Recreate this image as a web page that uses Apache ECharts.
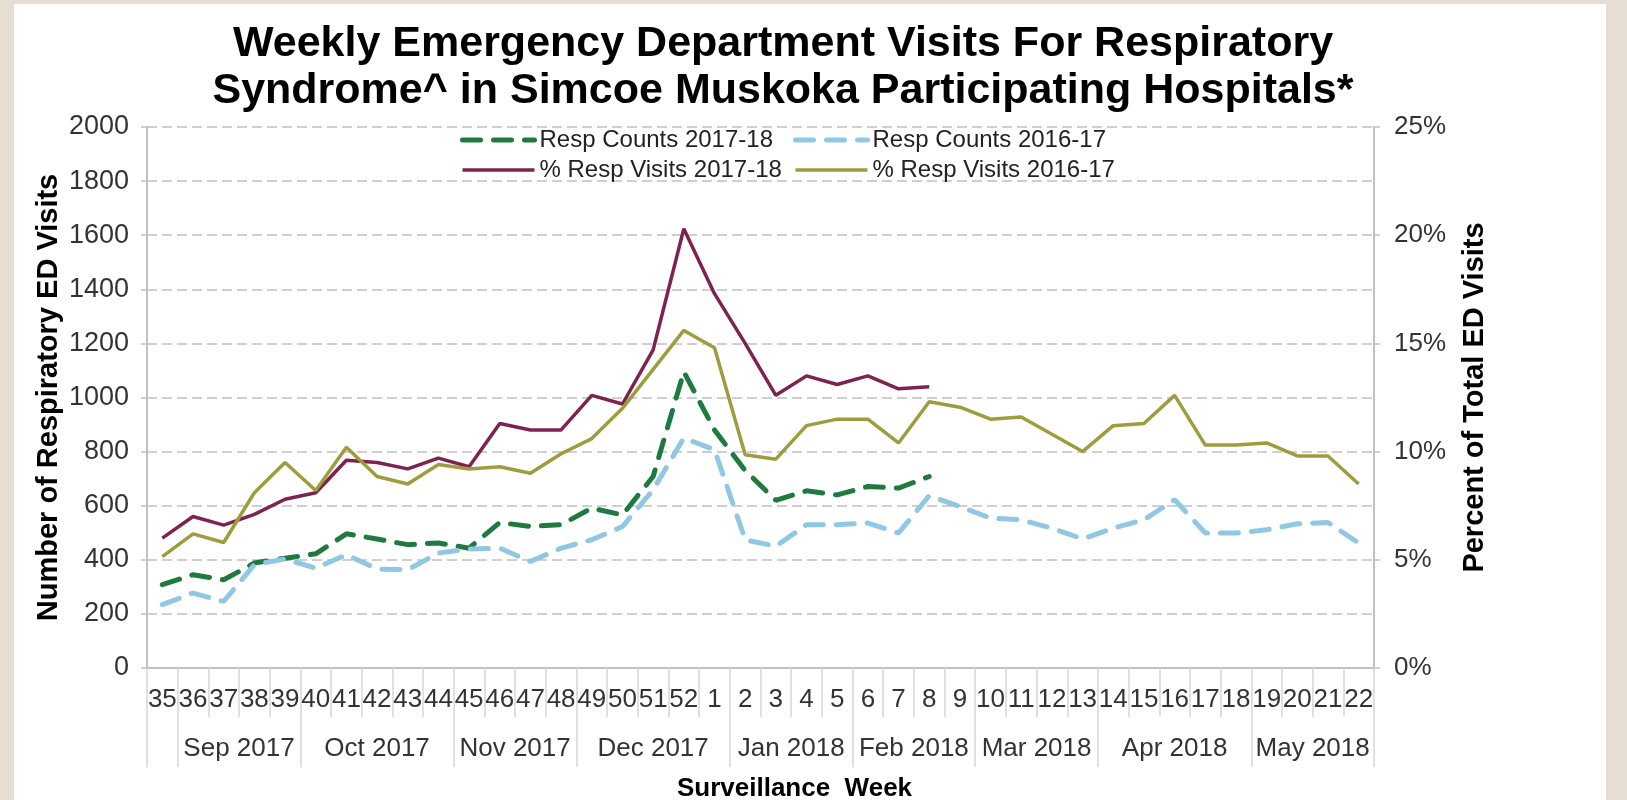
<!DOCTYPE html>
<html>
<head>
<meta charset="utf-8">
<title>Weekly ED Visits For Respiratory Syndrome</title>
<script src="https://cdn.jsdelivr.net/npm/echarts@6/dist/echarts.min.js"></script>
<style>
  html, body { margin: 0; padding: 0; background: #e6ddd3; }
  .paper { position: absolute; left: 14px; top: 4px; width: 1592px; height: 796px; background: #fff; }
  #chart { position: absolute; left: 0; top: 0; width: 1627px; height: 800px; }
</style>
</head>
<body>
<div class="paper"></div>
<div id="chart"></div>
<script>
// surveillance weeks 35 (2017) .. 22 (2018)
const weeks = ['35', '36', '37', '38', '39', '40', '41', '42', '43', '44', '45', '46', '47', '48', '49', '50', '51', '52',
  '1', '2', '3', '4', '5', '6', '7', '8', '9', '10', '11', '12', '13', '14', '15', '16', '17', '18', '19', '20', '21', '22']

// month groups under the week labels (how many weeks each one covers)
const months = ['', 'Sep 2017', 'Oct 2017', 'Nov 2017', 'Dec 2017', 'Jan 2018', 'Feb 2018', 'Mar 2018', 'Apr 2018', 'May 2018']
const monthWeeks = [1, 4, 5, 4, 5, 4, 4, 4, 5, 4]

// respiratory ED visit counts
const counts1718 = [308, 345, 326, 388, 406, 422, 496, 477, 456, 462, 443, 538, 523, 530, 591, 566, 708, 1095,
  880, 730, 620, 655, 640, 671, 665, 708]
const counts1617 = [234, 277, 246, 382, 403, 369, 419, 366, 363, 425, 440, 443, 394, 443, 474, 523, 659, 850,
  807, 474, 450, 530, 530, 536, 499, 637, 597, 554, 548, 517, 477, 517, 548, 622, 499, 499, 511, 533, 538, 462]

// percent of total ED visits
const pct1718 = [6.0, 7.0, 6.6, 7.1, 7.8, 8.1, 9.6, 9.5, 9.2, 9.7, 9.3, 11.3, 11.0, 11.0, 12.6, 12.2, 14.7, 20.3,
  17.3, 15.0, 12.6, 13.5, 13.1, 13.5, 12.9, 13.0]
const pct1617 = [5.15, 6.2, 5.8, 8.1, 9.5, 8.2, 10.2, 8.85, 8.5, 9.4, 9.2, 9.3, 9.0, 9.9, 10.6, 12.0, 13.8, 15.6,
  14.8, 9.85, 9.65, 11.2, 11.5, 11.5, 10.4, 12.3, 12.05, 11.5, 11.6, 10.8, 10.0, 11.2, 11.3, 12.6, 10.3, 10.3,
  10.4, 9.8, 9.8, 8.5]

const countTicks = { min: 0, max: 2000, interval: 200 }
const pctTicks = { min: 0, max: 25, interval: 5 }

const font = "'Liberation Sans', Arial, sans-serif"
const gridGrey = '#c0c0c0'

// the month row is a second category axis on half-week steps (0..80),
// so group edges and group centres both land on points
const halfSteps = []
const monthEdges = new Set([0])
for (let i = 0; i <= weeks.length * 2; i++) halfSteps.push('')
let start = 0
monthWeeks.forEach((n, i) => {
  const end = start + n
  halfSteps[start + end] = months[i]
  monthEdges.add(end * 2)
  start = end
})
const monthCentres = new Set(halfSteps.map((v, i) => v ? i : -1).filter(i => i >= 0))

const chart = echarts.init(document.getElementById('chart'))

// legend: two columns, sample line keeps the series width and dash, no dot
const legendBase = {
  orient: 'vertical',
  top: 123,
  itemWidth: 72,
  itemHeight: 14,
  itemGap: 6,
  itemStyle: { opacity: 0 },
  lineStyle: { width: 'inherit' },
  textStyle: { fontSize: 24, color: '#222', fontFamily: font }
}

const option = {
  backgroundColor: 'transparent',
  animation: false,
  textStyle: { fontFamily: font },
  title: {
    text: 'Weekly Emergency Department Visits For Respiratory\nSyndrome^ in Simcoe Muskoka Participating Hospitals*',
    left: 778,
    top: 16,
    textAlign: 'center',
    textStyle: { fontSize: 43, fontWeight: 'bold', color: '#000', lineHeight: 47, fontFamily: font }
  },
  legend: [
    Object.assign({}, legendBase, { left: 455, data: ['Resp Counts 2017-18', '% Resp Visits 2017-18'] }),
    Object.assign({}, legendBase, { left: 788, data: ['Resp Counts 2016-17', '% Resp Visits 2016-17'] })
  ],
  // fixed plot box, labels and names are allowed to sit outside it
  grid: { left: 147, right: 253, top: 127, bottom: 132, containLabel: false, outerBoundsMode: 'none' },
  xAxis: [
    {
      type: 'category',
      data: weeks,
      boundaryGap: true,
      name: 'Surveillance  Week',
      nameLocation: 'middle',
      nameGap: 108,
      nameTextStyle: { fontSize: 26, fontWeight: 'bold', color: '#000', padding: [0, 0, 0, 68] },
      axisLine: { lineStyle: { color: gridGrey, width: 2 } },
      axisTick: { show: true, interval: 0, length: 49, lineStyle: { color: '#d6d6d6', width: 1.5 } },
      axisLabel: { interval: 0, fontSize: 26, color: '#333', margin: 19 },
      splitLine: { show: false }
    },
    {
      type: 'category',
      data: halfSteps,
      boundaryGap: false,
      position: 'bottom',
      axisLine: { show: false },
      axisTick: { show: true, length: 99, interval: (i) => monthEdges.has(i), lineStyle: { color: '#d6d6d6', width: 1.5 } },
      axisLabel: { interval: (i) => monthCentres.has(i), fontSize: 26, color: '#333', margin: 68 },
      splitLine: { show: false }
    }
  ],
  yAxis: [
    {
      type: 'value',
      min: countTicks.min,
      max: countTicks.max,
      interval: countTicks.interval,
      name: 'Number of Respiratory ED Visits',
      nameLocation: 'middle',
      nameGap: 84,
      nameRotate: 90,
      nameMoveOverlap: false,
      nameTextStyle: { fontSize: 29, fontWeight: 'bold', color: '#000' },
      axisLine: { show: true, lineStyle: { color: gridGrey, width: 2 } },
      axisTick: { show: true, length: 6, lineStyle: { color: gridGrey, width: 1.5 } },
      axisLabel: { fontSize: 27, color: '#333', margin: 18, formatter: (v) => String(v) },
      splitLine: { show: true, lineStyle: { color: gridGrey, width: 1.5, type: [10, 5] } }
    },
    {
      type: 'value',
      min: pctTicks.min,
      max: pctTicks.max,
      interval: pctTicks.interval,
      name: 'Percent of Total ED Visits',
      nameLocation: 'middle',
      nameGap: 86,
      nameRotate: 90,
      nameTextStyle: { fontSize: 29, fontWeight: 'bold', color: '#000' },
      axisLine: { show: true, lineStyle: { color: gridGrey, width: 2 } },
      axisTick: { show: true, length: 6, lineStyle: { color: gridGrey, width: 1.5 } },
      axisLabel: { fontSize: 26, color: '#333', margin: 20, formatter: '{value}%' },
      splitLine: { show: false }
    }
  ],
  series: [
    {
      name: 'Resp Counts 2017-18',
      type: 'line',
      yAxisIndex: 0,
      data: counts1718,
      symbol: 'none',
      color: '#1f7a3f',
      lineStyle: { width: 5, type: [18, 13], cap: 'round', color: '#1f7a3f' }
    },
    {
      name: 'Resp Counts 2016-17',
      type: 'line',
      yAxisIndex: 0,
      data: counts1617,
      symbol: 'none',
      color: '#90c8e3',
      lineStyle: { width: 5, type: [18, 13], cap: 'round', color: '#90c8e3' }
    },
    {
      name: '% Resp Visits 2017-18',
      type: 'line',
      yAxisIndex: 1,
      data: pct1718,
      symbol: 'none',
      color: '#7e2350',
      lineStyle: { width: 3.5, color: '#7e2350' }
    },
    {
      name: '% Resp Visits 2016-17',
      type: 'line',
      yAxisIndex: 1,
      data: pct1617,
      symbol: 'none',
      color: '#9d9d3e',
      lineStyle: { width: 3.5, color: '#9d9d3e' }
    }
  ]
}

chart.setOption(option)
</script>
</body>
</html>
